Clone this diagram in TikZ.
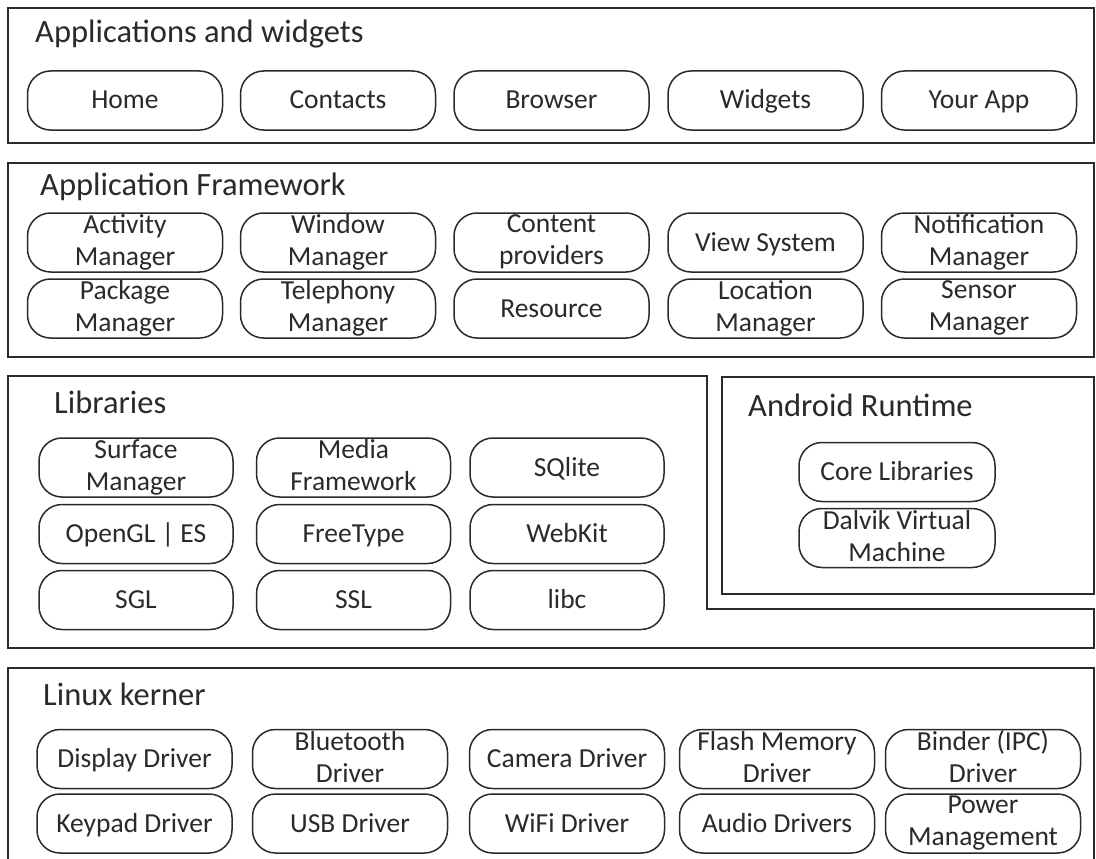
\documentclass[tikz,border=0pt]{standalone}
\usepackage{fontspec}
\setmainfont{Carlito}
\definecolor{ink}{HTML}{2A2A2A}
\newcommand\ps{\rule[-5pt]{0pt}{27pt}}
\begin{document}
\begin{tikzpicture}[x=1pt,y=-1pt,
  layer/.style={draw=ink, line width=1.8pt},
  pill/.style={draw=ink, line width=1.5pt, rounded corners=23pt, minimum width=195pt, minimum height=59pt, inner sep=0pt},
  ptxt/.style={text=ink, font=\fontsize{27.5}{32}\selectfont, align=center, inner sep=0pt, execute at begin node=\ps},
  title/.style={anchor=base west, inner sep=0pt, text=ink, font=\fontsize{32.5}{38}\selectfont}]
\useasboundingbox (0,0) rectangle (1096,859);
\clip (0,0) rectangle (1096,859);
\fill[white] (0,0) rectangle (1096,859);

% Applications and widgets
\draw[layer] (8,8) rectangle (1094,143);
\node[title] (tapps) at (35,43) {Applications and widgets};
\node[pill, label={[ptxt]center:Home}] (home) at (125,100.5) {};
\node[pill, label={[ptxt]center:Contacts}] (contacts) at (338,100.5) {};
\node[pill, label={[ptxt]center:Browser}] (browser) at (551.5,100.5) {};
\node[pill, label={[ptxt]center:Widgets}] (widgets) at (765.5,100.5) {};
\node[pill, label={[ptxt]center:Your App}] (yourapp) at (979,100.5) {};

% Application Framework
\draw[layer] (8,163) rectangle (1094,357);
\node[title] (tfw) at (40,195) {Application Framework};
\node[pill, label={[ptxt]center:{Activity\\\ps Manager}}] (actm) at (125,242.5) {};
\node[pill, label={[ptxt]center:{Window\\\ps Manager}}] (winm) at (338,242.5) {};
\node[pill, label={[ptxt]center:{Content\\\ps providers}}] (cprov) at (551.5,242.5) {};
\node[pill, label={[ptxt]center:View System}] (views) at (765.5,242.5) {};
\node[pill, label={[ptxt]center:{Notification\\\ps Manager}}] (notm) at (979,242.5) {};
\node[pill, label={[ptxt]center:{Package\\\ps Manager}}] (pkgm) at (125,308.5) {};
\node[pill, label={[ptxt]center:{Telephony\\\ps Manager}}] (telm) at (338,308.5) {};
\node[pill, label={[ptxt]center:Resource}] (res) at (551.5,308.5) {};
\node[pill, label={[ptxt]center:{Location\\\ps Manager}}] (locm) at (765.5,308.5) {};
\node[pill, label={[ptxt]center:{Sensor\\\ps Manager}}] (senm) at (979,308.5) {};

% Libraries
\draw[layer] (8,376) -- (707,376) -- (707,609) -- (1094,609) -- (1094,648) -- (8,648) -- cycle;
\node[title] (tlib) at (54,413) {Libraries};
\node[pill, minimum width=194pt, label={[ptxt]center:{Surface\\\ps Manager}}] (surf) at (136,467.5) {};
\node[pill, minimum width=194pt, label={[ptxt]center:{Media\\\ps Framework}}] (media) at (353.5,467.5) {};
\node[pill, minimum width=194pt, label={[ptxt]center:SQlite}] (sqlite) at (567,467.5) {};
\node[pill, minimum width=194pt, label={[ptxt]center:OpenGL | ES}] (opengl) at (136,534) {};
\node[pill, minimum width=194pt, label={[ptxt]center:FreeType}] (freetype) at (353.5,534) {};
\node[pill, minimum width=194pt, label={[ptxt]center:WebKit}] (webkit) at (567,534) {};
\node[pill, minimum width=194pt, label={[ptxt]center:SGL}] (sgl) at (136,600) {};
\node[pill, minimum width=194pt, label={[ptxt]center:SSL}] (ssl) at (353.5,600) {};
\node[pill, minimum width=194pt, label={[ptxt]center:libc}] (libc) at (567,600) {};

% Android Runtime
\draw[layer] (722,377) rectangle (1094,594);
\node[title] (tart) at (748,416) {Android Runtime};
\node[pill, minimum width=196pt, label={[ptxt]center:Core Libraries}] (core) at (897,472) {};
\node[pill, minimum width=196pt, label={[ptxt]center:{Dalvik Virtual\\\ps Machine}}] (dalvik) at (897,538) {};

% Linux kerner
\draw[layer] (8,668) rectangle (1094,890);
\node[title] (tlin) at (43,705) {Linux kerner};
\node[pill, label={[ptxt]center:Display Driver}] (disp) at (134.5,759) {};
\node[pill, label={[ptxt]center:{Bluetooth\\\ps Driver}}] (bt) at (350,759) {};
\node[pill, label={[ptxt]center:Camera Driver}] (cam) at (567,759) {};
\node[pill, label={[ptxt]center:{Flash Memory\\\ps Driver}}] (flash) at (777,759) {};
\node[pill, label={[ptxt]center:{Binder (IPC)\\\ps Driver}}] (binder) at (983,759) {};
\node[pill, label={[ptxt]center:Keypad Driver}] (keypad) at (134.5,823.5) {};
\node[pill, label={[ptxt]center:USB Driver}] (usb) at (350,823.5) {};
\node[pill, label={[ptxt]center:WiFi Driver}] (wifi) at (567,823.5) {};
\node[pill, label={[ptxt]center:Audio Drivers}] (audio) at (777,823.5) {};
\node[pill, label={[ptxt]center:{Power\\\ps Management}}] (power) at (983,823.5) {};
\end{tikzpicture}
\end{document}
